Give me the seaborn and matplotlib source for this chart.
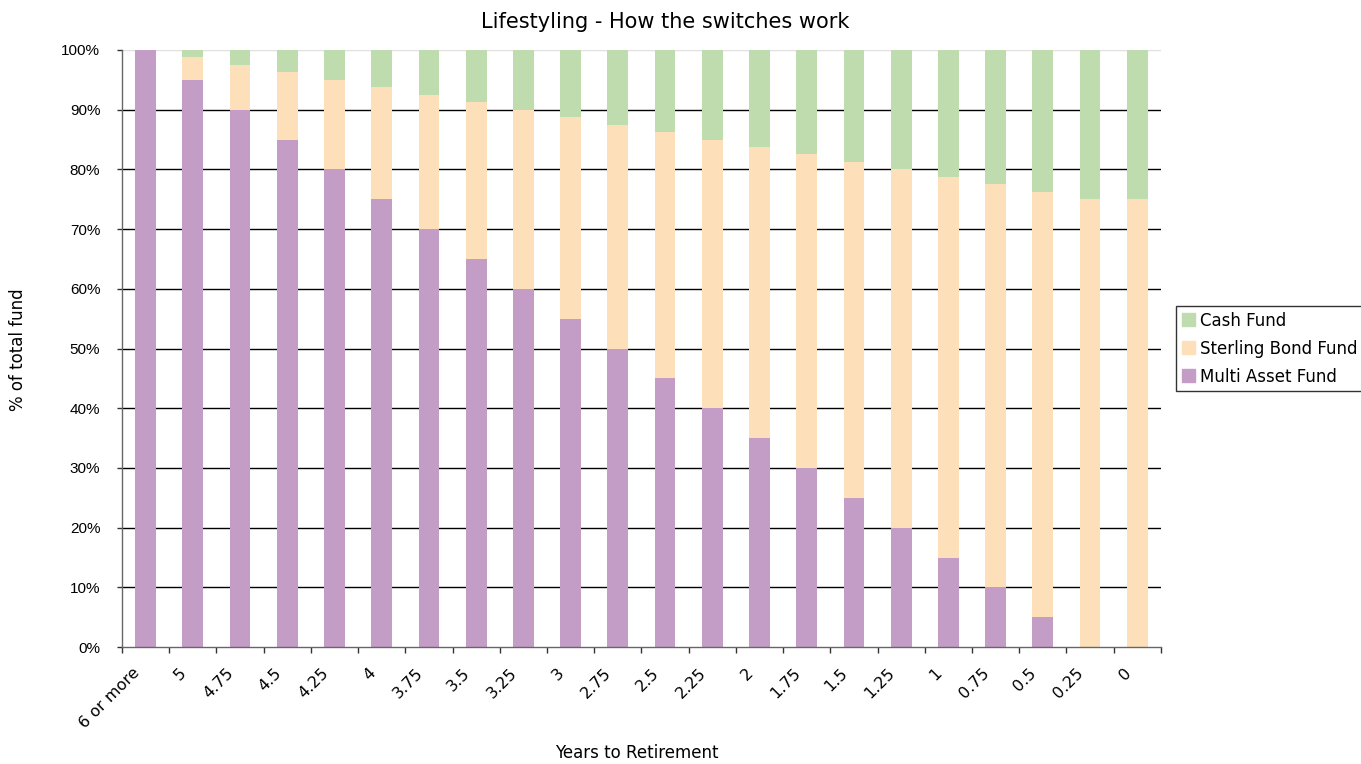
import numpy as np
import pandas as pd
import matplotlib
matplotlib.use('Agg')
import matplotlib.pyplot as plt
import matplotlib.transforms as mtrans
import seaborn as sns
from matplotlib.patches import Patch

years = ['6 or more', '5', '4.75', '4.5', '4.25', '4', '3.75', '3.5', '3.25', '3',
         '2.75', '2.5', '2.25', '2', '1.75', '1.5', '1.25', '1', '0.75', '0.5',
         '0.25', '0']
multi_asset = [100, 95, 90, 85, 80, 75, 70, 65, 60, 55, 50, 45, 40, 35, 30, 25,
               20, 15, 10, 5, 0, 0]
sterling_bond = [0, 3.75, 7.5, 11.25, 15, 18.75, 22.5, 26.25, 30, 33.75, 37.5,
                 41.25, 45, 48.75, 52.5, 56.25, 60, 63.75, 67.5, 71.25, 75, 75]
cash = [0, 1.25, 2.5, 3.75, 5, 6.25, 7.5, 8.75, 10, 11.25, 12.5, 13.75, 15,
        16.25, 17.5, 18.75, 20, 21.25, 22.5, 23.75, 25, 25]

df = pd.DataFrame({'years': years, 'multi': multi_asset,
                   'bond': sterling_bond, 'cash': cash})
df['bond_bottom'] = df['multi']
df['cash_bottom'] = df['multi'] + df['bond']

sns.set_style('white')
plt.rcParams['font.family'] = ['DejaVu Sans']
plt.rcParams['text.color'] = 'black'
plt.rcParams['axes.labelcolor'] = 'black'
plt.rcParams['xtick.color'] = 'black'
plt.rcParams['ytick.color'] = 'black'

c_multi = '#c49dc6'
c_bond = '#fde0ba'
c_cash = '#bfdcaf'

fig = plt.figure(figsize=(13.61, 7.64), dpi=100)
ax = fig.add_axes([0.0896, 0.153, 0.7634, 0.7816])

# horizontal grid lines behind the bars
for v in range(10, 100, 10):
    ax.axhline(v, color='black', lw=1, zorder=0)
ax.axhline(100, color='#e0e0e0', lw=1, zorder=0)

w = 0.44
sns.barplot(data=df, x='years', y='multi', color=c_multi, width=w,
            saturation=1, ax=ax, zorder=2, linewidth=0)
sns.barplot(data=df, x='years', y='bond', bottom=df['bond_bottom'], color=c_bond,
            width=w, saturation=1, ax=ax, zorder=2, linewidth=0)
sns.barplot(data=df, x='years', y='cash', bottom=df['cash_bottom'], color=c_cash,
            width=w, saturation=1, ax=ax, zorder=2, linewidth=0)

ax.set_xlim(-0.5, len(years) - 0.5)
ax.set_ylim(0, 100)
ax.set_yticks(range(0, 101, 10))
ax.set_yticklabels([f'{v}%' for v in range(0, 101, 10)],
                   fontsize=11, family='Liberation Sans')
ax.tick_params(axis='y', left=True, length=3.6, color='#333333', width=1, pad=12)

# x ticks between categories, labels at the centre
ax.set_xticks(np.arange(len(years)))
ax.set_xticklabels(years, rotation=45, ha='right', rotation_mode='anchor', fontsize=11.5)
ax.tick_params(axis='x', which='major', bottom=False, length=0, pad=13)
shift = mtrans.ScaledTranslation(-14 / 100, 0, fig.dpi_scale_trans)
for lab in ax.get_xticklabels():
    lab.set_transform(lab.get_transform() + shift)
ax.set_xticks(np.arange(-0.5, len(years), 1), minor=True)
ax.tick_params(axis='x', which='minor', bottom=True, length=4, color='#333333', width=1)

for s in ['top', 'right']:
    ax.spines[s].set_visible(False)
for s in ['left', 'bottom']:
    ax.spines[s].set_color('#666666')
    ax.spines[s].set_linewidth(1)

ax.set_xlabel('')
ax.set_ylabel('')
fig.text(637 / 1361, 1 - 753 / 764, 'Years to Retirement', fontsize=12,
         ha='center', va='center')
fig.text(18 / 1361, 1 - 350 / 764, '% of total fund', fontsize=12,
         ha='center', va='center', rotation=90)
fig.text(665 / 1361, 1 - 22 / 764, 'Lifestyling - How the switches work',
         fontsize=15, ha='center', va='center')

handles = [Patch(color=c_cash, label='Cash Fund'),
           Patch(color=c_bond, label='Sterling Bond Fund'),
           Patch(color=c_multi, label='Multi Asset Fund')]
leg = ax.legend(handles=handles, loc='center left', bbox_to_anchor=(1.0144, 0.5),
                fontsize=12, frameon=True, fancybox=False, handlelength=0.8,
                handleheight=0.8, handletextpad=0.3, borderpad=0.35,
                labelspacing=0.6, borderaxespad=0)
leg.get_frame().set_edgecolor('black')
leg.get_frame().set_linewidth(1)

fig.savefig('out.png', dpi=100)
